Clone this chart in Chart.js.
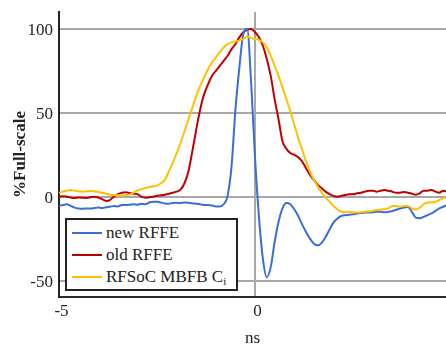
<!DOCTYPE html>
<html>
<head>
<meta charset="utf-8">
<script src="https://cdn.jsdelivr.net/npm/chart.js@4/dist/chart.umd.min.js"></script>
<style>
  body { margin: 0; background: #fff; }
  #wrap { position: relative; width: 446px; height: 345px; }
  #legend {
    position: absolute; left: 65px; top: 218px; width: 173px; height: 73px;
    box-sizing: border-box; border: 2px solid #222; background: #fff;
    font-family: 'Liberation Serif', serif; font-size: 17px; color: #222;
    padding-top: 1.5px; z-index: 2;
  }
  .row { position: relative; height: 22.3px; line-height: 22.3px; padding-left: 39px; white-space: nowrap; }
  .row .sw { position: absolute; left: 5px; top: 10px; width: 30px; height: 2px; }
  .row sub { font-size: 11px; vertical-align: -3px; line-height: 0; }
</style>
</head>
<body>
<div id="wrap">
  <canvas id="chart" width="446" height="345"></canvas>
  <div id="legend"></div>
</div>
<script>
// time axis (ns)
const times = [-5.0, -4.9, -4.8, -4.7, -4.6, -4.5, -4.4, -4.3, -4.2, -4.1,
  -4.0, -3.9, -3.8, -3.7, -3.6, -3.5, -3.4, -3.3, -3.2, -3.1,
  -3.0, -2.9, -2.8, -2.7, -2.6, -2.5, -2.4, -2.3, -2.2, -2.1,
  -2.0, -1.9, -1.8, -1.7, -1.6, -1.5, -1.4, -1.3, -1.2, -1.1,
  -1.0, -0.9, -0.8, -0.7, -0.6, -0.5, -0.4, -0.3, -0.2, -0.1,
  0.0, 0.1, 0.2, 0.3, 0.4, 0.5, 0.6, 0.7, 0.8, 0.9,
  1.0, 1.1, 1.2, 1.3, 1.4, 1.5, 1.6, 1.7, 1.8, 1.9,
  2.0, 2.1, 2.2, 2.3, 2.4, 2.5, 2.6, 2.7, 2.8, 2.9,
  3.0, 3.1, 3.2, 3.3, 3.4, 3.5, 3.6, 3.7, 3.8, 3.9,
  4.0, 4.1, 4.2, 4.3, 4.4, 4.5, 4.6, 4.7, 4.8, 4.9];

const newRFFE = [-5.4, -5.0, -4.5, -5.5, -6.5, -7.0, -7.2, -7.0, -7.0, -6.8,
  -6.5, -6.8, -6.3, -6.0, -5.5, -5.8, -5.0, -5.0, -4.8, -4.5,
  -4.8, -4.2, -4.5, -3.5, -3.0, -3.0, -3.5, -4.0, -4.2, -3.8,
  -3.6, -3.8, -3.5, -3.6, -4.0, -4.2, -4.5, -5.0, -5.0, -5.2,
  -5.8, -5.8, -4.5, 0.5, 18, 52, 77, 97, 100, 68,
  23, -12, -37, -48, -42, -27, -15, -7, -3.8, -4.5,
  -7.5, -11.5, -16.5, -21, -25, -28, -29, -27.5, -24, -19.5,
  -15.5, -13, -11.5, -11, -10.8, -10.5, -10, -9.8, -9.5, -9.5,
  -9.3, -9, -9, -9.3, -9, -8.5, -7.8, -7, -6.5, -6.2,
  -9, -12.5, -12.8, -12, -11, -10, -8.5, -7, -6, -5];

const oldRFFE = [0, 0.3, 0, -0.5, -0.8, -0.5, -0.6, -0.8, -0.3, 0,
  -0.5, -1.5, -2.5, -2, 0, 1.5, 2.4, 2.6, 2.2, 1.8,
  1.5, 0, -0.6, -0.3, 0, 0.6, 0.8, 1.2, 1.8, 2.4,
  3, 4.2, 8, 15, 27, 40, 52, 61, 67, 72,
  75, 78, 81, 84, 88, 91, 95, 98, 99.5, 100,
  98, 95, 90, 82, 72, 58, 46, 33, 28.5, 26,
  25, 23.5, 21, 17, 13, 10, 7, 5, 3, 1.5,
  0.5, 0, 0.5, 1, 1.5, 1.5, 2, 2.4, 3, 3.6,
  3.6, 3, 3.6, 4, 3.5, 3, 2.4, 2.4, 2.8, 2.4,
  1.8, 1.2, 2, 3.6, 3.6, 4, 3, 2.4, 3.6, 3];

const rfsocCi = [2.4, 3, 3.6, 4, 3.6, 3.2, 3, 3.2, 3.4, 3.2,
  2.8, 2.4, 1.8, 1.2, 1, 0.8, 0.6, 0.8, 1.2, 2.4,
  3.6, 4.5, 5.2, 5.8, 6.2, 6.6, 8, 10, 15, 20,
  26, 32, 39, 46, 53, 60, 66, 71, 76, 80,
  83, 86, 89, 91, 92, 92.5, 93.2, 94, 95.5, 94.5,
  94, 93.5, 92, 89, 84, 78, 72, 65, 58, 51,
  43, 35, 28, 21, 15, 10, 6, 2.5, -0.5, -3,
  -5.5, -7.5, -9, -9.3, -9, -9.5, -9.5, -9.3, -9, -8.8,
  -8.5, -8, -7.7, -7.5, -7, -5.5, -5.5, -6, -5.5, -5.5,
  -7, -7.7, -6.5, -4.5, -3.5, -3.5, -3, -2, -1, -0.5];

const seriesNames = ['new RFFE', 'old RFFE', 'RFSoC MBFB Ci'];
const seriesColors = ['#3a6ed6', '#c00000', '#ffc000'];
const yTicks = [-50, 0, 50, 100];
const xTicks = [-5, 0];

function pts(vals) {
  return times.map((t, i) => ({ x: t, y: vals[i] }));
}

const allSeries = [newRFFE, oldRFFE, rfsocCi];
const drawOrder = [1, 2, 0];
const datasets = allSeries.map((vals, i) => ({
  label: seriesNames[i],
  data: pts(vals),
  borderColor: seriesColors[i],
  backgroundColor: seriesColors[i],
  borderWidth: 2,
  pointRadius: 0,
  cubicInterpolationMode: 'monotone',
  order: drawOrder[i]
}));

const serif = 'Liberation Serif';
const gridGray = '#a8a8a8';

new Chart(document.getElementById('chart'), {
  type: 'line',
  data: { datasets: datasets },
  options: {
    responsive: false,
    animation: false,
    devicePixelRatio: 1,
    layout: { padding: { top: 12, left: 0, right: 0, bottom: 0 } },
    plugins: { legend: { display: false }, tooltip: { enabled: false } },
    scales: {
      x: {
        type: 'linear', min: -5, max: 4.87,
        afterBuildTicks: s => { s.ticks = xTicks.map(v => ({ value: v })); },
        afterFit: s => { s.height = 48; s.paddingLeft = 0; s.paddingRight = 0; },
        grid: {
          color: ctx => (ctx.tick && ctx.tick.value === 0) ? gridGray : 'rgba(0,0,0,0)',
          lineWidth: 2, drawTicks: false
        },
        border: { color: '#2b2b2b', width: 2 },
        ticks: {
          autoSkip: false, maxRotation: 0, padding: 4, labelOffset: 2.5, color: '#222',
          font: { family: serif, size: 17 },
          callback: v => String(v)
        },
        title: {
          display: true, text: 'ns', color: '#222',
          font: { family: serif, size: 17, lineHeight: 0.8 },
          padding: { top: 0, bottom: 0 }
        }
      },
      y: {
        min: -59.8, max: 110.1,
        afterBuildTicks: s => { s.ticks = yTicks.map(v => ({ value: v })); },
        afterFit: s => { s.width = 59; s.paddingTop = 0; s.paddingBottom = 0; },
        grid: { color: gridGray, lineWidth: 2, drawTicks: false },
        border: { color: '#222', width: 2 },
        ticks: {
          autoSkip: false, padding: 6, labelOffset: 2, color: '#222',
          font: { family: serif, size: 17 },
          callback: v => String(v)
        },
        title: {
          display: true, text: '%Full-scale', color: '#222',
          font: { family: serif, size: 17, weight: 'bold' },
          padding: { top: 10, bottom: 0 }
        }
      }
    }
  }
});

// legend box drawn as html over the plot, bottom-left
var legendHtml = '';
seriesNames.forEach((name, i) => {
  var txt = name.replace(/Ci$/, 'C<sub>i</sub>');
  legendHtml += '<div class="row"><span class="sw" style="background:' + seriesColors[i] + '"></span>' + txt + '</div>';
});
document.getElementById('legend').innerHTML = legendHtml;
</script>
</body>
</html>
